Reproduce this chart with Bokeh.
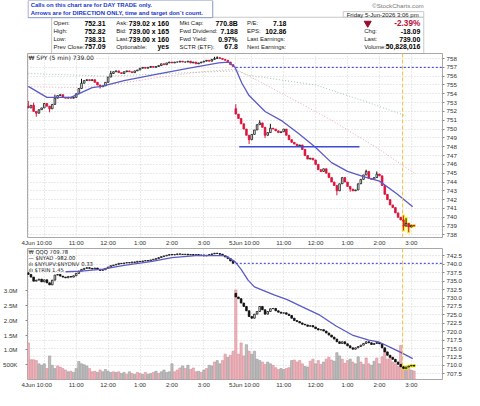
from bokeh.plotting import figure
from bokeh.models import (Range1d, LinearAxis, FixedTicker, Span, Label,
                          ColumnDataSource, NumeralTickFormatter)
from bokeh.layouts import column
from bokeh.core.properties import value
from bokeh.embed import file_html
from bokeh.resources import INLINE

FONT = "Liberation Sans"
LFONT = "DejaVu Sans"

# ---------------- data ----------------
# 5-minute bars, 78 per session; day 1 = 4 Jun, day 2 = 5 Jun (to 3:05 pm)
spy_close_day1 = [752.4, 752.7, 752.0, 751.8, 752.2, 752.4, 752.9, 752.6, 752.3, 752.8,
                  753.5, 753.8, 753.9, 753.6, 753.5, 753.6, 753.5, 753.6, 754.0, 754.6,
                  755.2, 755.5, 755.6, 755.5, 755.6, 755.3, 755.0, 754.8, 754.9, 755.3,
                  755.9, 756.3, 756.5, 756.6, 756.4, 756.3, 756.5, 756.6, 756.5, 756.4,
                  756.6, 756.7, 756.9, 757.0, 756.9, 757.0, 757.1, 757.0, 757.1, 757.2,
                  757.4, 757.3, 757.5, 757.6, 757.5, 757.6, 757.6, 757.7, 757.6, 757.6,
                  757.7, 757.5, 757.6, 757.4, 757.5, 757.6, 757.7, 757.8, 757.7, 757.9,
                  758.0, 758.1, 758.0, 757.9, 757.8, 757.6, 757.3, 757.09]
spy_close_day2 = [751.7, 751.2, 750.6, 750.0, 749.3, 748.8, 749.4, 749.9, 750.5, 750.7,
                  750.2, 749.3, 749.6, 750.1, 750.0, 749.8, 749.6, 749.7, 750.0, 749.3,
                  748.8, 748.5, 748.3, 748.1, 748.2, 747.7, 747.0, 746.6, 746.7, 746.5,
                  746.0, 745.4, 745.2, 745.5, 745.0, 744.5, 744.0, 743.6, 743.0, 743.8,
                  744.5, 744.0, 743.5, 743.2, 743.0, 743.1, 743.8, 744.3, 744.8, 745.2,
                  744.4, 744.3, 744.5, 744.9, 744.7, 743.6, 742.6, 742.0, 741.4, 741.1,
                  740.5, 740.0, 739.7, 739.0, 739.3, 738.9, 739.1, 739.0]
spy_day_open = [752.6, 752.31]
spy_high_idx = [0, 2, 10, 20, 31, 70, 71, 78, 87, 91, 127, 131, 141, 142]
spy_high_val = [753.2, 753.0, 753.9, 755.7, 756.6, 758.2, 758.25, 752.82, 751.0, 750.6,
                745.4, 745.2, 740.2, 739.9]
spy_low_idx = [3, 8, 27, 83, 89, 116, 121, 141, 143]
spy_low_val = [751.4, 751.9, 754.6, 748.3, 749.0, 742.5, 742.9, 738.5, 738.31]

qqq_close_day1 = [737.0, 736.2, 735.0, 735.3, 735.6, 734.8, 735.4, 734.5, 733.9, 735.3,
                  736.8, 737.0, 736.5, 736.2, 736.0, 736.4, 736.2, 736.6, 737.3, 738.0,
                  738.5, 738.8, 739.0, 738.8, 738.6, 738.9, 738.5, 738.2, 738.4, 738.8,
                  739.2, 739.6, 739.8, 740.0, 740.3, 740.2, 740.4, 740.5, 740.4, 740.7,
                  740.6, 740.9, 740.8, 741.0, 741.1, 741.0, 741.3, 741.5, 741.7, 742.0,
                  742.3, 742.5, 742.7, 742.9, 742.8, 742.9, 743.1, 743.0, 742.9, 743.0,
                  742.8, 742.9, 742.7, 742.9, 742.6, 742.8, 742.5, 742.7, 742.9, 743.1,
                  743.3, 743.2, 743.0, 742.6, 742.2, 741.7, 741.0, 740.3]
qqq_close_day2 = [730.3, 729.8, 728.5, 727.5, 726.2, 724.5, 724.0, 725.2, 726.0, 727.5,
                  726.5, 725.2, 726.0, 726.8, 726.9, 726.2, 725.8, 725.5, 725.6, 725.2,
                  724.8, 724.0, 723.3, 723.0, 722.6, 722.2, 722.0, 721.6, 721.8, 721.4,
                  720.9, 720.5, 720.6, 720.2, 719.6, 719.0, 718.4, 717.8, 717.0, 716.5,
                  717.0, 716.4, 715.8, 715.2, 714.8, 715.2, 715.6, 716.0, 716.5, 717.0,
                  716.7, 716.2, 716.5, 716.8, 716.4, 715.2, 714.0, 713.0, 712.4, 711.8,
                  711.0, 710.3, 709.6, 709.0, 709.5, 709.8, 710.0, 709.78]
qqq_day_open = [737.5, 731.4]

# SPY volume, millions; p = down bar (pink), g = up bar (grey)
vol_day1 = [1.24, 0.67, 0.67, 0.64, 0.53, 0.48, 0.53, 0.37, 0.80, 0.48,
            0.37, 0.46, 0.42, 0.37, 0.32, 0.26, 0.28, 0.24, 0.37, 0.61,
            0.53, 0.50, 0.46, 0.37, 0.26, 0.28, 0.24, 0.32, 0.26, 0.34,
            0.28, 0.24, 0.26, 0.24, 0.26, 0.20, 0.24, 0.17, 0.26, 0.20,
            0.17, 0.24, 0.20, 0.17, 0.24, 0.17, 0.20, 0.24, 0.28, 0.20,
            0.26, 0.32, 0.24, 0.26, 0.53, 0.26, 0.32, 0.39, 0.46, 0.37,
            0.48, 0.34, 0.39, 0.26, 0.28, 0.24, 0.32, 0.37, 0.48, 0.46,
            0.59, 0.64, 0.53, 0.64, 0.86, 0.75, 0.82, 0.96]
vol_day2 = [3.03, 0.86, 1.24, 0.80, 1.18, 0.96, 0.86, 0.96, 0.69, 0.64,
            0.59, 0.51, 0.59, 0.53, 0.48, 0.40, 0.34, 0.37, 0.34, 0.37,
            0.40, 0.64, 0.66, 0.59, 0.64, 0.53, 0.44, 0.42, 0.62, 0.69,
            0.53, 0.64, 0.51, 0.59, 0.69, 0.75, 0.66, 0.62, 0.91, 0.80,
            0.69, 0.55, 0.64, 0.69, 0.59, 0.53, 0.77, 0.59, 0.51, 0.73,
            0.53, 0.48, 0.62, 0.73, 0.53, 0.77, 1.05, 0.69, 0.77, 0.59,
            0.53, 0.44, 1.15, 0.42, 0.34, 0.40, 0.31, 0.29]
vol_kind_day1 = "ppppgggpgg" "gppppgpggg" "gggpppgpgg" "ggpgpggpgp" "gppgpggpgp" "gggggpppgp" "gpppgpgpgg" "pggppgpp"
vol_kind_day2 = "ppppgpgggg" "ppggpppggp" "pgppppggpp" "gppgpppggg" "pppgpggpgp" "pggpgppppp" "ppppgpgp"

# moving averages (bar index, value)
spy_ma_x = [0, 7, 16, 24, 27.5, 36, 48, 60.5, 71.6, 75.2, 77.7, 80.3, 83, 89, 95.5,
            101.6, 107.7, 114, 120, 126, 132, 138.4, 144.5]
spy_ma_y = [754.84, 753.6, 753.6, 754.7, 754.84, 755.5, 756.2, 756.9, 757.5, 757.6, 757.0,
            755.2, 753.8, 752.0, 750.9, 749.5, 748.0, 746.2, 745.2, 744.6, 744.1, 742.7, 741.2]
spy_ma2_x = [0, 20, 35, 50, 65, 78, 95, 114, 132, 145]
spy_ma2_y = [754.8, 754.7, 755.2, 755.9, 756.5, 756.8, 754.1, 751.0, 747.7, 745.0]
spy_ma3_x = [0, 30, 60, 78, 83, 108, 126, 142]
spy_ma3_y = [756.3, 756.0, 756.4, 756.6, 756.1, 755.0, 753.2, 751.5]
qqq_ma_x = [14, 20, 28, 36, 46, 54, 63, 70, 74, 77.7, 80, 82.6, 85, 92.4, 97.3, 103.4,
            109.6, 115.7, 121.8, 128, 131.6, 136.5, 140.2, 144.5]
qqq_ma_y = [737.8, 738.0, 738.6, 739.7, 740.8, 742.0, 742.6, 742.6, 742.6, 740.8, 738.5,
            735.3, 733.3, 730.9, 729.5, 727.2, 724.9, 721.7, 719.0, 717.5, 717.0, 715.2,
            713.8, 712.0]

x_ticks = [0, 6, 18, 30, 42, 54, 66, 78, 84, 96, 108, 120, 132, 144]
x_tick_labels = ["4Jun", "10:00", "11:00", "12:00", "1:00", "2:00", "3:00",
                 "5Jun", "10:00", "11:00", "12:00", "1:00", "2:00", "3:00"]
spy_ticks = [738, 739, 740, 741, 742, 743, 744, 745, 746, 747, 748, 749, 750,
             751, 752, 753, 754, 755, 756, 757, 758]
qqq_ticks = [707.5, 710.0, 712.5, 715.0, 717.5, 720.0, 722.5, 725.0, 727.5, 730.0,
             732.5, 735.0, 737.5, 740.0, 742.5]
vol_ticks = [0.5, 1.0, 1.5, 2.0, 2.5, 3.0]
vol_tick_labels = ["500K", "1.0M", "1.5M", "2.0M", "2.5M", "3.0M"]

spy_prev_close_line = 757.0
qqq_prev_close_line = 740.3
day2_start_bar = 78
support_level = 748.0
support_bars = [79.3, 124.5]
alert_bar = 140.7
highlight_bars = [141, 142, 143, 144, 145]

hdr_lab1 = ["Open:", "High:", "Low:", "Prev Close:"]
hdr_val1 = ["752.31", "752.82", "738.31", "757.09"]
hdr_lab2 = ["Ask:", "Bid:", "Last:", "Optionable:"]
hdr_val2 = ["739.02 x 160", "739.00 x 165", "739.00 x 160", "yes"]
hdr_lab3 = ["Mkt Cap:", "Fwd Dividend:", "Fwd Yield:", "SCTR (ETF):"]
hdr_val3 = ["770.8B", "7.188", "0.97%", "67.8"]
hdr_lab4 = ["P/E:", "EPS:", "Last Earnings:", "Next Earnings:"]
hdr_val4 = ["7.18", "102.86", "", ""]
hdr_right_lab = ["Chg:", "Last:", "Volume:"]
hdr_right_val = ["-18.09", "739.00", "50,828,016"]
hdr_pct = "-2.39%"
hdr_date = "Friday  5-Jun-2026  3:06 pm"
note_lines = ["Calls on this chart are for DAY TRADE only.",
              "Arrows are for DIRECTION ONLY, time and target don`t count."]

# ---------------- helpers ----------------
def ohlc(days, day_open, hi_idx=(), hi_val=(), lo_idx=(), lo_val=()):
    o, c = [], []
    for d, closes in enumerate(days):
        prev = day_open[d]
        for v in closes:
            o.append(prev)
            c.append(v)
            prev = v
    h = [max(a, b) for a, b in zip(o, c)]
    l = [min(a, b) for a, b in zip(o, c)]
    for i, v in zip(hi_idx, hi_val):
        h[i] = max(h[i], v)
    for i, v in zip(lo_idx, lo_val):
        l[i] = min(l[i], v)
    return o, h, l, c


def candle_source(o, h, l, c, up_fill, up_line, dn_fill, dn_line):
    up = [cc >= oo for oo, cc in zip(o, c)]
    return ColumnDataSource(dict(
        x=list(range(len(c))),
        top=[max(a, b) for a, b in zip(o, c)],
        bottom=[min(a, b) for a, b in zip(o, c)],
        high=h, low=l,
        fill=[up_fill if u else dn_fill for u in up],
        line=[up_line if u else dn_line for u in up]))


def style_axis(ax, tick_out=2, standoff=2):
    ax.major_label_text_font = FONT
    ax.major_label_text_font_size = "6.2px"
    ax.major_label_text_color = "#333333"
    ax.axis_line_color = None
    ax.minor_tick_line_color = None
    ax.major_tick_in = 0
    ax.major_tick_out = tick_out
    ax.major_tick_line_color = "#888888"
    ax.major_label_standoff = standoff


def style_grid(g, ticks):
    g.ticker = FixedTicker(ticks=ticks)
    g.grid_line_color = "#d4d4d4"
    g.grid_line_dash = "1 2"
    g.grid_line_width = 1


W = 464
BL, BR = 27, 21
XR = (-0.3, 155.7)

so, sh, sl, sc = ohlc([spy_close_day1, spy_close_day2], spy_day_open,
                      spy_high_idx, spy_high_val, spy_low_idx, spy_low_val)
qo, qh, ql, qc = ohlc([qqq_close_day1, qqq_close_day2], qqq_day_open)

# ---------------- header ----------------
hdr = figure(width=W, height=53, x_range=Range1d(-0.6, 473.4), y_range=Range1d(57, 0),
             output_backend="svg", toolbar_location=None,
             min_border_left=0, min_border_right=0, min_border_top=0, min_border_bottom=0)
hdr.axis.visible = False
hdr.grid.visible = False
hdr.outline_line_color = None

hdr.quad(left=27, right=452, top=18, bottom=57, fill_color=None, line_color="#c8c8c8", line_width=1)
hdr.quad(left=360, right=452, top=12, bottom=18, fill_color=None, line_color="#c8c8c8", line_width=1)

rows_y = [24.5, 33, 41.5, 50]
lab_kw = dict(text_font=value(FONT), text_font_size=value("6.0px"), text_color="#222222",
              text_align="left", text_baseline="middle")
val_kw = dict(text_font=value(FONT), text_font_size=value("6.9px"), text_color="#000000",
              text_font_style="bold", text_align="right", text_baseline="middle")
for lx, vx, labs, vals in [(29, 88.5, hdr_lab1, hdr_val1), (100.7, 161, hdr_lab2, hdr_val2),
                           (173, 239.5, hdr_lab3, hdr_val3), (250, 295, hdr_lab4, hdr_val4)]:
    hdr.text(x=[lx] * 4, y=rows_y, text=labs, **lab_kw)
    hdr.text(x=[vx] * 4, y=rows_y, text=vals, **val_kw)

hdr.text(x=[384] * 3, y=rows_y[1:], text=hdr_right_lab, **lab_kw)
hdr.text(x=[448] * 3, y=rows_y[1:], text=hdr_right_val, **val_kw)
hdr.text(x=[448], y=[rows_y[0]], text=[hdr_pct], text_font=value(FONT), text_font_size=value("8.2px"),
         text_font_style="bold", text_color="#b5123c", text_align="right", text_baseline="middle")
hdr.scatter(x=[388], y=[rows_y[0]], marker="inverted_triangle", size=7,
            fill_color="#9c0a2c", line_color="#9c0a2c")
hdr.text(x=[450], y=[15.5], text=[hdr_date], text_font=value(FONT), text_font_size=value("6.0px"),
         text_color="#222222", text_align="right", text_baseline="middle")
hdr.text(x=[452], y=[5.5], text=["\u00a9StockCharts.com"], text_font=value(FONT),
         text_font_size=value("6.2px"), text_color="#777777", text_align="right", text_baseline="middle")

hdr.quad(left=0, right=211, top=0, bottom=18.5, fill_color="white", line_color="#8797c4", line_width=1)
hdr.text(x=[3, 3], y=[5, 13.5], text=note_lines, text_font=value(FONT), text_font_size=value("5.9px"),
         text_font_style="bold", text_color="#1a36c8", text_align="left", text_baseline="middle")

# ---------------- main SPY panel ----------------
pm = figure(width=W, height=195, x_range=Range1d(*XR), y_range=Range1d(737.71, 758.57),
            output_backend="svg", toolbar_location=None, y_axis_location="right",
            min_border_left=BL, min_border_right=BR, min_border_top=0, min_border_bottom=9)
pm.outline_line_color = "#a8a8a8"
style_axis(pm.yaxis[0])
pm.yaxis.ticker = FixedTicker(ticks=spy_ticks)
pm.yaxis.formatter = NumeralTickFormatter(format="0")
style_axis(pm.xaxis[0], tick_out=0, standoff=1)
pm.xaxis.ticker = FixedTicker(ticks=x_ticks)
pm.xaxis.major_label_overrides = {t: s for t, s in zip(x_ticks, x_tick_labels)}
style_grid(pm.xgrid[0], x_ticks)
style_grid(pm.ygrid[0], spy_ticks)

pm.line(spy_ma3_x, spy_ma3_y, line_color="#9cc8a8", line_dash="1 2", line_width=1)
pm.line(spy_ma2_x, spy_ma2_y, line_color="#f0a4ae", line_dash="1 2", line_width=1)

hl = [i for i in highlight_bars]
pm.vbar(x=hl, width=1.25, top=[sh[i] + 0.12 for i in hl], bottom=[sl[i] - 0.12 for i in hl],
        fill_color="#f6f22a", line_color=None)

ssrc = candle_source(so, sh, sl, sc, "white", "#111111", "#dc143c", "#dc143c")
pm.segment(x0="x", y0="low", x1="x", y1="high", line_color="line", line_width=1, source=ssrc)
pm.vbar(x="x", width=0.62, top="top", bottom="bottom", fill_color="fill", line_color="line",
        line_width=0.8, source=ssrc)

pm.line(spy_ma_x, spy_ma_y, line_color="#5a5ac8", line_width=1.3)
pm.segment(x0=[support_bars[0]], y0=[support_level], x1=[support_bars[1]], y1=[support_level],
           line_color="#3f4ad8", line_width=1.3)
pm.segment(x0=[day2_start_bar], y0=[spy_prev_close_line], x1=[XR[1]], y1=[spy_prev_close_line],
           line_color="#2a36e0", line_width=1, line_dash="2 2")
pm.add_layout(Span(location=alert_bar, dimension="height", line_color="#f2c23c",
                   line_width=1, line_dash="4 2"))
pm.add_layout(Label(x=1, y=180.5, x_units="screen", y_units="screen",
                    text="\u20a9 SPY (5 min) 739.00", text_font=LFONT, text_font_size="6.0px",
                    text_color="#222222", text_baseline="middle"))

# ---------------- lower QQQ / volume panel ----------------
pl = figure(width=W, height=142, x_range=Range1d(*XR), y_range=Range1d(705.8, 744.7),
            output_backend="svg", toolbar_location=None, y_axis_location="right",
            min_border_left=BL, min_border_right=BR, min_border_top=0, min_border_bottom=9)
pl.outline_line_color = "#a8a8a8"
pl.extra_y_ranges = {"vol": Range1d(0, 4.44)}
style_axis(pl.yaxis[0])
pl.yaxis.ticker = FixedTicker(ticks=qqq_ticks)
pl.yaxis.formatter = NumeralTickFormatter(format="0.0")
vax = LinearAxis(y_range_name="vol")
style_axis(vax, tick_out=2, standoff=8)
vax.ticker = FixedTicker(ticks=vol_ticks)
vax.major_label_overrides = {t: s for t, s in zip(vol_ticks, vol_tick_labels)}
pl.add_layout(vax, "left")
style_axis(pl.xaxis[0], tick_out=0, standoff=1)
pl.xaxis.ticker = FixedTicker(ticks=x_ticks)
pl.xaxis.major_label_overrides = {t: s for t, s in zip(x_ticks, x_tick_labels)}
style_grid(pl.xgrid[0], x_ticks)
style_grid(pl.ygrid[0], qqq_ticks)

vols = vol_day1 + vol_day2
kinds = vol_kind_day1 + vol_kind_day2
vsrc = ColumnDataSource(dict(
    x=list(range(len(vols))), v=vols,
    fill=["#ecb4bb" if k == "p" else "#bdbdbd" for k in kinds],
    line=["#d98d98" if k == "p" else "#9a9a9a" for k in kinds]))
pl.vbar(x="x", width=0.85, top="v", bottom=0, fill_color="fill", line_color="line",
        line_width=0.6, source=vsrc, y_range_name="vol")

pl.vbar(x=hl, width=1.25, top=[qh[i] + 0.4 for i in hl], bottom=[ql[i] - 0.4 for i in hl],
        fill_color="#f6f22a", line_color=None)
qsrc = candle_source(qo, qh, ql, qc, "white", "#111111", "#111111", "#111111")
pl.segment(x0="x", y0="low", x1="x", y1="high", line_color="line", line_width=1, source=qsrc)
pl.vbar(x="x", width=0.62, top="top", bottom="bottom", fill_color="fill", line_color="line",
        line_width=0.8, source=qsrc)
pl.line(qqq_ma_x, qqq_ma_y, line_color="#5a5ac8", line_width=1.3)
pl.segment(x0=[day2_start_bar], y0=[qqq_prev_close_line], x1=[XR[1]], y1=[qqq_prev_close_line],
           line_color="#2a36e0", line_width=1, line_dash="2 2")
pl.add_layout(Span(location=alert_bar, dimension="height", line_color="#f2c23c",
                   line_width=1, line_dash="4 2"))

leg = ["\u20a9 QQQ 709.78", "\u2014 $NYAD -982.00", "\u0131l\u0131 $NYUPV:$NYDNV 0.33", "\u0131l\u0131 $TRIN 1.45"]
for k, t in enumerate(leg):
    pl.add_layout(Label(x=1, y=128 - 6 * k, x_units="screen", y_units="screen", text=t,
                        text_font=LFONT, text_font_size="5.3px", text_color="#222222",
                        text_baseline="middle"))

layout = column(hdr, pm, pl)
open("out.html", "w").write(file_html(layout, INLINE))
